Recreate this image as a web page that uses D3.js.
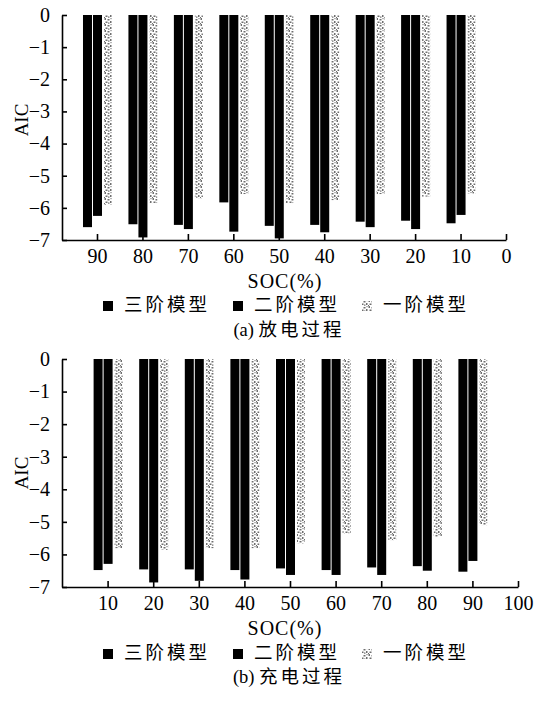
<!DOCTYPE html>
<html>
<head>
<meta charset="utf-8">
<script src="https://cdn.jsdelivr.net/npm/d3@7"></script>
<style>
  body { margin: 0; background: #fff; }
  text { fill: #000; }
</style>
</head>
<body>
<div id="chart"></div>
<script>
// AIC of 1st/2nd/3rd order models vs SOC, discharge (a) and charge (b)
const series = ["三阶模型", "二阶模型", "一阶模型"];

const socA = [90, 80, 70, 60, 50, 40, 30, 20, 10];
const thirdA = [-6.6, -6.51, -6.53, -5.83, -6.56, -6.53, -6.43, -6.4, -6.48];
const secondA = [-6.25, -6.92, -6.66, -6.74, -6.95, -6.76, -6.6, -6.66, -6.22];
const firstA = [-5.9, -5.85, -5.7, -5.57, -5.85, -5.76, -5.57, -5.65, -5.55];

const socB = [10, 20, 30, 40, 50, 60, 70, 80, 90];
const thirdB = [-6.48, -6.46, -6.46, -6.48, -6.43, -6.48, -6.4, -6.36, -6.53];
const secondB = [-6.29, -6.86, -6.81, -6.77, -6.63, -6.63, -6.63, -6.5, -6.2];
const firstB = [-5.81, -5.86, -5.81, -5.81, -5.66, -5.35, -5.56, -5.46, -5.1];

const xTicksA = [90, 80, 70, 60, 50, 40, 30, 20, 10, 0];
const xTicksB = [10, 20, 30, 40, 50, 60, 70, 80, 90, 100];
const yTicks = [0, -1, -2, -3, -4, -5, -6, -7];

const serif = "'Liberation Serif', 'Times New Roman', 'Noto Sans CJK SC', serif";
const cjk = "'Liberation Serif', 'Noto Sans CJK SC', sans-serif";

const svg = d3.select("#chart").append("svg").attr("width", 534).attr("height", 703);

// grey speckle texture for the first-order bars
const pat = svg.append("defs").append("pattern")
    .attr("id", "speckle").attr("patternUnits", "userSpaceOnUse")
    .attr("width", 8).attr("height", 6);
[[0.5, 0, 1.5, 2], [3.5, 1, 2, 1.5], [6, 3, 1.5, 2], [1.5, 3.5, 2, 1.5], [4, 4.5, 1.5, 1.2], [6.5, 0, 1, 1.2], [0, 5, 1, 1]]
    .forEach(([x, y, w, h]) => pat.append("rect").attr("x", x).attr("y", y)
        .attr("width", w).attr("height", h).attr("fill", "#6e6e6e"));

const fills = ["#000", "#000", "url(#speckle)"];

function panel(cfg) {
    const x = d3.scaleLinear().domain(cfg.xDomain).range([62, cfg.xRight]);
    const y = d3.scaleLinear().domain([0, -7]).range([cfg.top, cfg.bottom]);
    const inner = d3.scaleBand().domain(series).range([-14, 15]).paddingInner(0.1);

    const rows = cfg.soc.map((s, i) => ({ s, vals: [cfg.third[i], cfg.second[i], cfg.first[i]] }));
    const g = svg.append("g");

    g.selectAll("g.grp").data(rows).join("g").attr("class", "grp")
        .selectAll("rect")
        .data(d => d.vals.map((v, k) => ({ s: d.s, v, k })))
        .join("rect")
        .attr("x", d => x(d.s) + inner(series[d.k]) + (d.k === 2 ? 1 : 0))
        .attr("y", y(0))
        .attr("width", d => inner.bandwidth() - (d.k === 2 ? 1 : 0))
        .attr("height", d => y(d.v) - y(0))
        .attr("fill", d => fills[d.k]);

    const xa = g.append("g").attr("transform", `translate(0,${cfg.bottom})`)
        .call(d3.axisBottom(x).tickValues(cfg.xTicks).tickSize(-6).tickSizeOuter(0).tickPadding(9));
    const ya = g.append("g").attr("transform", "translate(62,0)")
        .call(d3.axisLeft(y).tickValues(yTicks).tickFormat(d3.format("d"))
            .tickSize(-5).tickSizeOuter(0).tickPadding(12));
    [xa, ya].forEach(a => {
        a.select(".domain").attr("stroke", "#000").attr("stroke-width", 1.6);
        a.selectAll(".tick line").attr("stroke", "#000").attr("stroke-width", 1.6);
        a.selectAll(".tick text").attr("font-family", serif).attr("font-size", 20).attr("fill", "#000");
    });

    g.append("text").attr("transform", `translate(28,${cfg.aicY}) rotate(-90)`)
        .attr("text-anchor", "middle").attr("font-family", serif).attr("font-size", 19)
        .text("AIC");

    g.append("text").attr("x", 285).attr("y", cfg.socY).attr("text-anchor", "middle")
        .attr("font-family", serif).attr("font-size", 20).attr("letter-spacing", 1).text("SOC(%)");

    // legend
    const lx = [103, 233, 362];
    series.forEach((name, k) => {
        g.append("rect").attr("x", lx[k]).attr("y", cfg.legY - 10).attr("width", 10).attr("height", 10)
            .attr("fill", fills[k]);
        g.append("text").attr("x", lx[k] + 21).attr("y", cfg.legY)
            .attr("font-family", cjk).attr("font-size", 18.5).attr("letter-spacing", 3)
            .text(name);
    });

    const cap = g.append("text").attr("x", 289).attr("y", cfg.capY).attr("text-anchor", "middle")
        .attr("font-family", cjk).attr("font-size", 18.5);
    cap.append("tspan").text(cfg.caption.slice(0, 3) + " ");
    cap.append("tspan").attr("letter-spacing", 3).text(cfg.caption.slice(3));
}

panel({
    soc: socA, third: thirdA, second: secondA, first: firstA,
    xDomain: [97.7, 0], xRight: 506, xTicks: xTicksA,
    top: 15, bottom: 240, aicY: 120, socY: 288, legY: 311, capY: 336,
    caption: "(a)放电过程"
});

panel({
    soc: socB, third: thirdB, second: secondB, first: firstB,
    xDomain: [0, 100], xRight: 518, xTicks: xTicksB,
    top: 359, bottom: 587, aicY: 473, socY: 635, legY: 659, capY: 683,
    caption: "(b)充电过程"
});
</script>
</body>
</html>
